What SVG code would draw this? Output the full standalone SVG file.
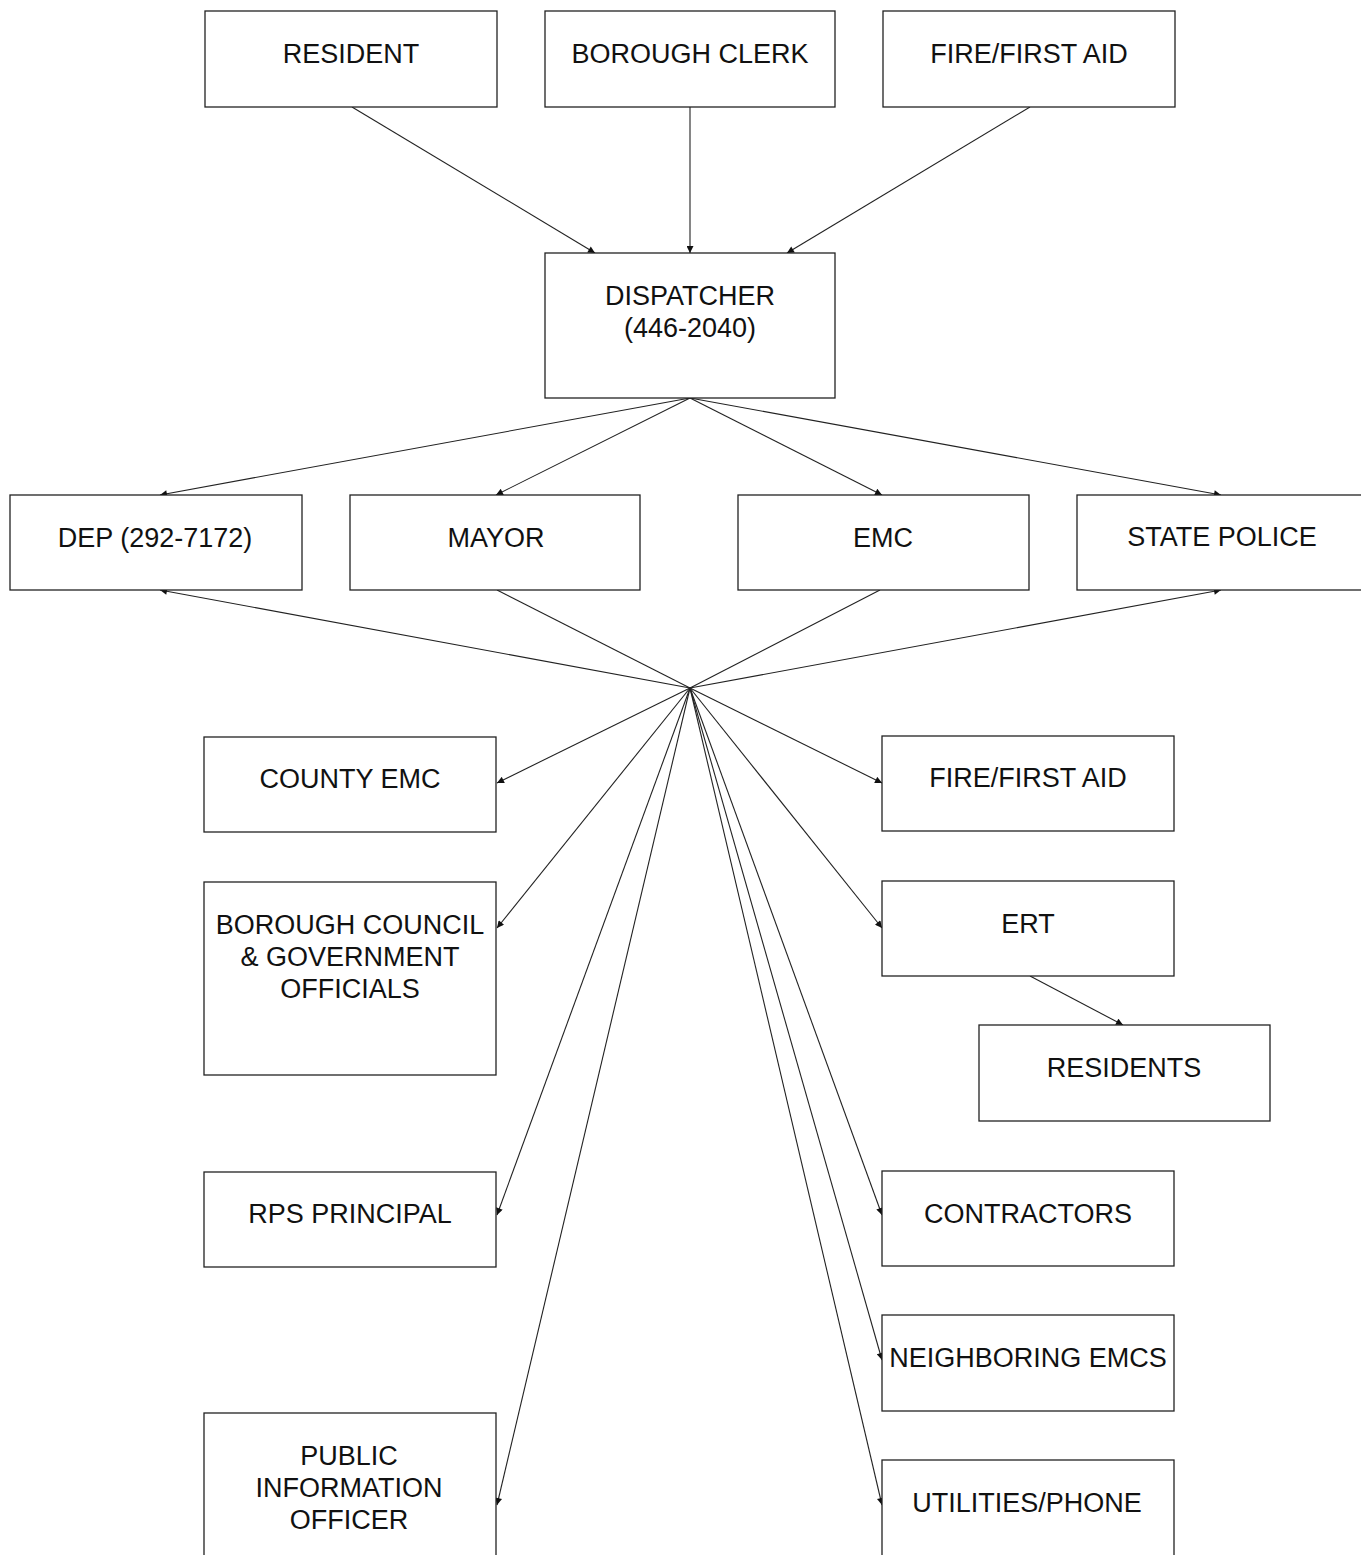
<svg xmlns="http://www.w3.org/2000/svg" width="1361" height="1555" viewBox="0 0 1361 1555">
<style>
.box{fill:#fff;stroke:#222;stroke-width:1.3}
.t{font-family:"Liberation Sans",Arial,sans-serif;font-size:27px;fill:#111;text-anchor:middle}
.c{stroke:#222;stroke-width:1.1;fill:none}
.a{marker-end:url(#ah)}
</style>
<defs>
<marker id="ah" viewBox="0 0 10 10" refX="10" refY="5" markerWidth="8" markerHeight="7" markerUnits="userSpaceOnUse" orient="auto">
<path d="M0,0 L10,5 L0,10 z" fill="#111"/>
</marker>
</defs>
<rect width="1361" height="1555" fill="#fff"/>
<g id="connectors">
<line class="c a" x1="352" y1="107" x2="595" y2="253"/>
<line class="c a" x1="690" y1="107" x2="690" y2="253"/>
<line class="c a" x1="1030" y1="107" x2="787" y2="253"/>
<line class="c a" x1="690" y1="398" x2="160" y2="495"/>
<line class="c a" x1="690" y1="398" x2="496" y2="495"/>
<line class="c a" x1="690" y1="398" x2="882" y2="495"/>
<line class="c a" x1="690" y1="398" x2="1221" y2="495"/>
<line class="c a" x1="690" y1="688" x2="160" y2="590"/>
<line class="c" x1="690" y1="688" x2="497" y2="590"/>
<line class="c" x1="690" y1="688" x2="880" y2="590"/>
<line class="c a" x1="690" y1="688" x2="1221" y2="590"/>
<line class="c a" x1="690" y1="688" x2="497" y2="783"/>
<line class="c a" x1="690" y1="688" x2="497" y2="928"/>
<line class="c a" x1="690" y1="688" x2="497" y2="1215"/>
<line class="c a" x1="690" y1="688" x2="497" y2="1505"/>
<line class="c a" x1="690" y1="688" x2="882" y2="783"/>
<line class="c a" x1="690" y1="688" x2="882" y2="928"/>
<line class="c a" x1="690" y1="688" x2="882" y2="1215"/>
<line class="c a" x1="690" y1="688" x2="882" y2="1360"/>
<line class="c a" x1="690" y1="688" x2="882" y2="1505"/>
<line class="c a" x1="1030" y1="976" x2="1123" y2="1025"/>
</g>
<g id="resident"><rect class="box" x="205" y="11" width="292" height="96"/><text class="t" x="351" y="63">RESIDENT</text></g>
<g id="borough-clerk"><rect class="box" x="545" y="11" width="290" height="96"/><text class="t" x="690" y="63">BOROUGH CLERK</text></g>
<g id="fire-top"><rect class="box" x="883" y="11" width="292" height="96"/><text class="t" x="1029" y="63">FIRE/FIRST AID</text></g>
<g id="dispatcher"><rect class="box" x="545" y="253" width="290" height="145"/><text class="t" x="690" y="305">DISPATCHER</text><text class="t" x="690" y="337">(446-2040)</text></g>
<g id="dep"><rect class="box" x="10" y="495" width="292" height="95"/><text class="t" x="155" y="547">DEP (292-7172)</text></g>
<g id="mayor"><rect class="box" x="350" y="495" width="290" height="95"/><text class="t" x="496" y="547">MAYOR</text></g>
<g id="emc"><rect class="box" x="738" y="495" width="291" height="95"/><text class="t" x="883" y="547">EMC</text></g>
<g id="state-police"><rect class="box" x="1077" y="495" width="292" height="95"/><text class="t" x="1222" y="546">STATE POLICE</text></g>
<g id="county-emc"><rect class="box" x="204" y="737" width="292" height="95"/><text class="t" x="350" y="788">COUNTY EMC</text></g>
<g id="borough-council"><rect class="box" x="204" y="882" width="292" height="193"/><text class="t" x="350" y="934">BOROUGH COUNCIL</text><text class="t" x="350" y="966">&amp; GOVERNMENT</text><text class="t" x="350" y="998">OFFICIALS</text></g>
<g id="rps-principal"><rect class="box" x="204" y="1172" width="292" height="95"/><text class="t" x="350" y="1223">RPS PRINCIPAL</text></g>
<g id="pio"><rect class="box" x="204" y="1413" width="292" height="160"/><text class="t" x="349" y="1465">PUBLIC</text><text class="t" x="349" y="1497">INFORMATION</text><text class="t" x="349" y="1529">OFFICER</text></g>
<g id="fire-right"><rect class="box" x="882" y="736" width="292" height="95"/><text class="t" x="1028" y="787">FIRE/FIRST AID</text></g>
<g id="ert"><rect class="box" x="882" y="881" width="292" height="95"/><text class="t" x="1028" y="933">ERT</text></g>
<g id="residents"><rect class="box" x="979" y="1025" width="291" height="96"/><text class="t" x="1124" y="1077">RESIDENTS</text></g>
<g id="contractors"><rect class="box" x="882" y="1171" width="292" height="95"/><text class="t" x="1028" y="1223">CONTRACTORS</text></g>
<g id="neighboring-emcs"><rect class="box" x="882" y="1315" width="292" height="96"/><text class="t" x="1028" y="1367">NEIGHBORING EMCS</text></g>
<g id="utilities"><rect class="box" x="882" y="1460" width="292" height="110"/><text class="t" x="1027" y="1512">UTILITIES/PHONE</text></g>
</svg>
